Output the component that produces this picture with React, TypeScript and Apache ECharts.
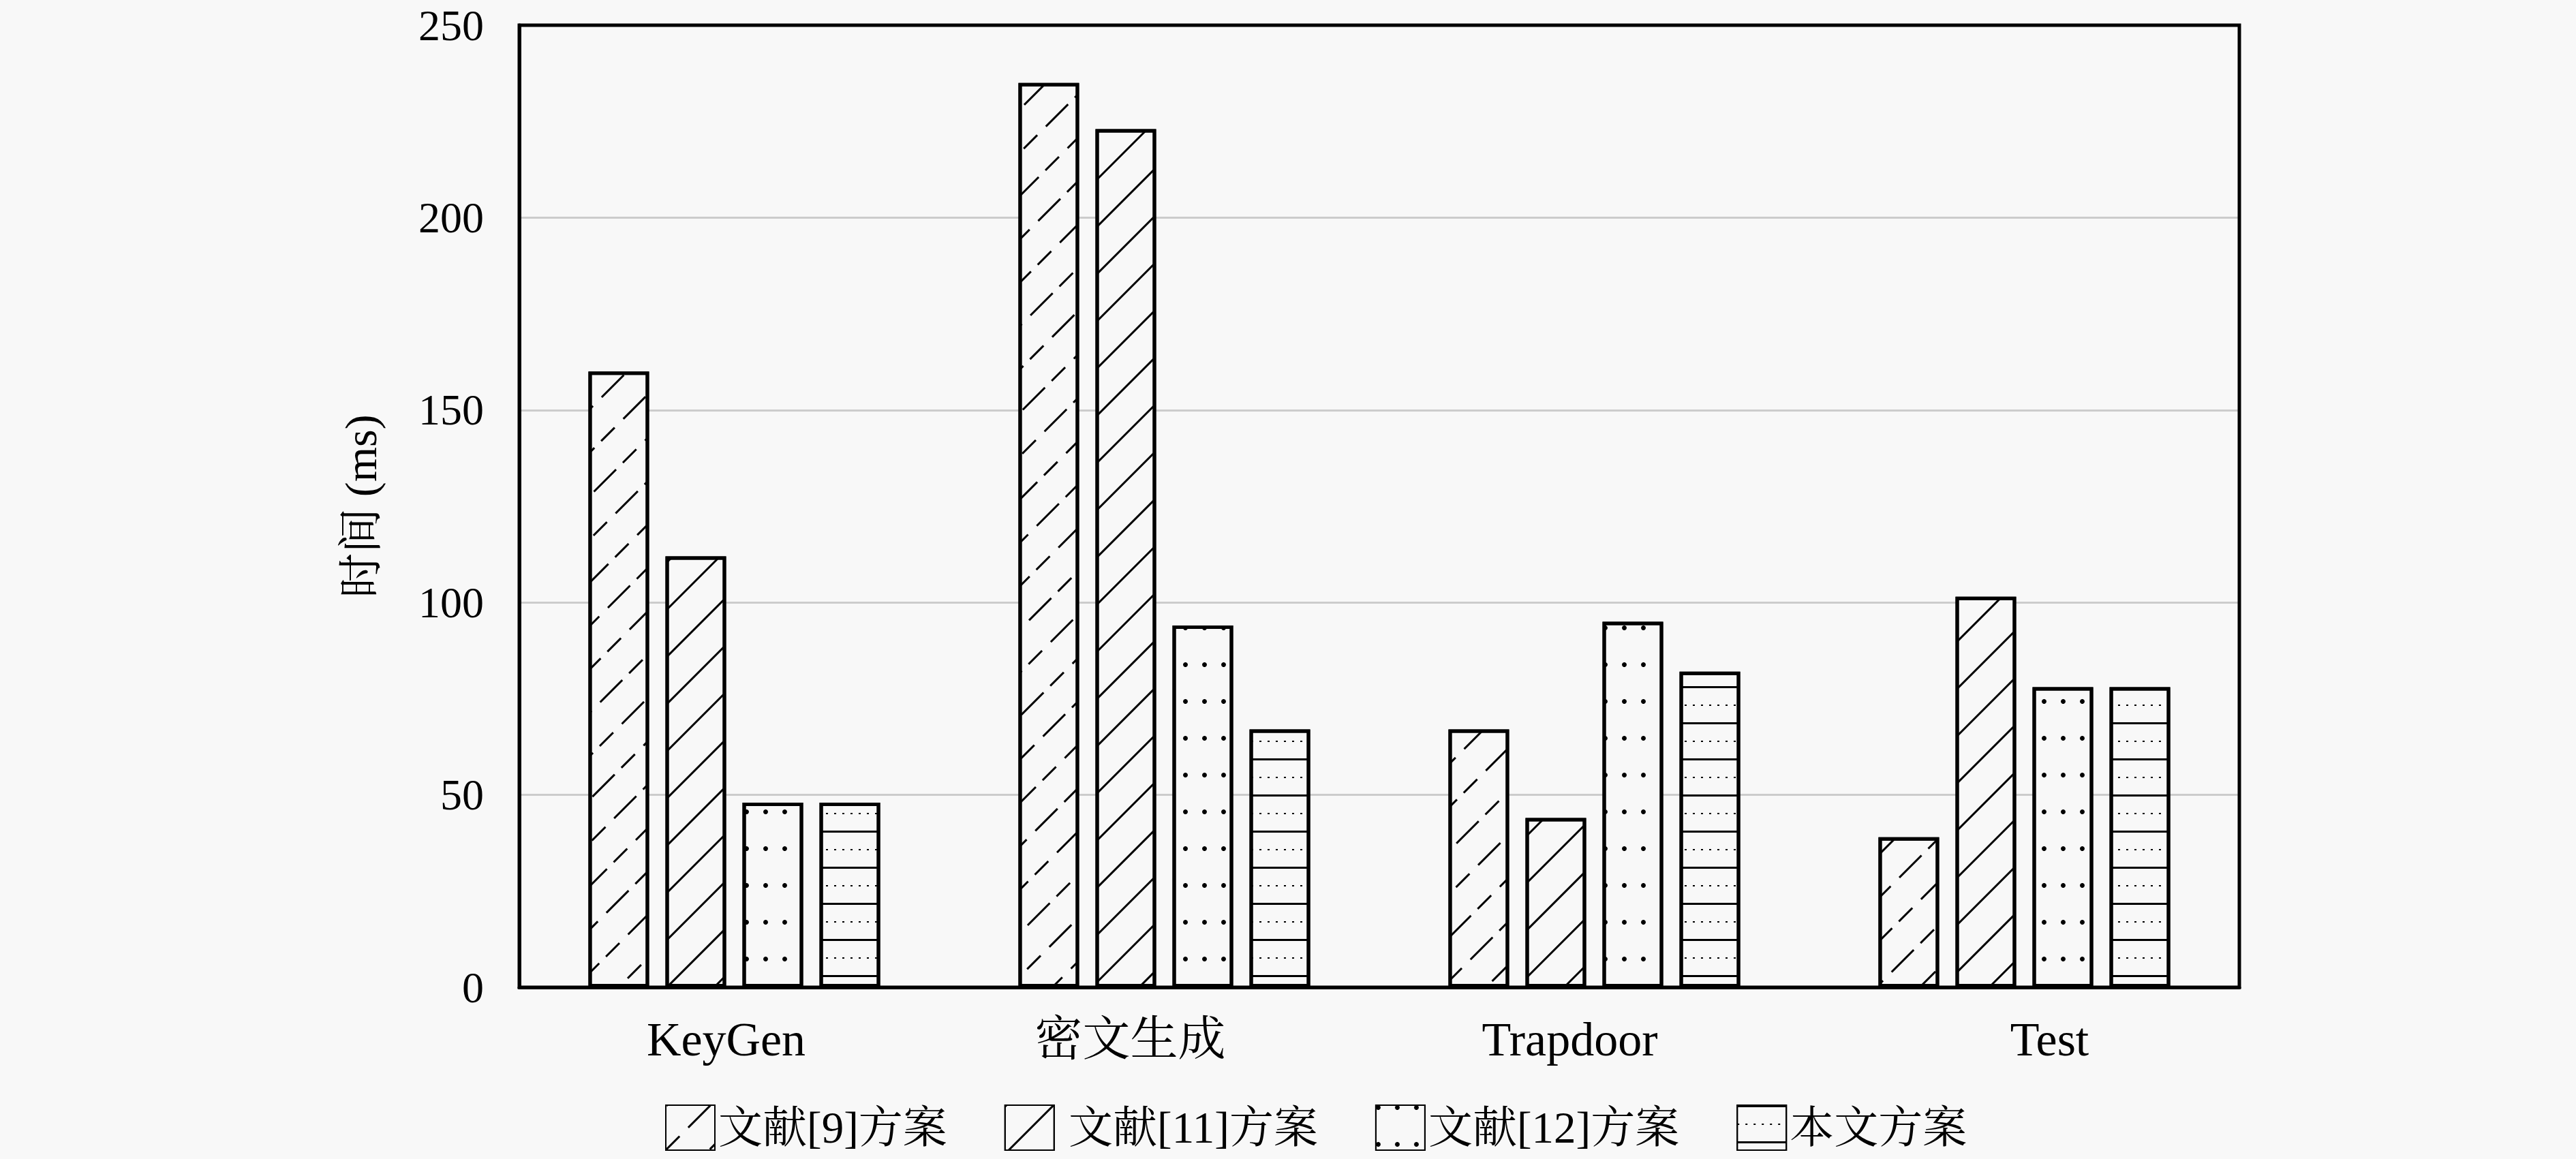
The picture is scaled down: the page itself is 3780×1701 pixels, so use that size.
import React, { useEffect, useRef } from "react";
import * as echarts from "echarts";

const categories = ["KeyGen", "密文生成", "Trapdoor", "Test"];
const labelShift = [-12, -50, -36, 37];
const seriesNames = ["文献[9]方案", "文献[11]方案", "文献[12]方案", "本文方案"];
const ref9 = [160, 235, 67, 39];
const ref11 = [112, 223, 44, 101.5];
const ref12 = [48, 94, 95, 78];
const ours = [48, 67, 82, 78];
const yTicks = { min: 0, max: 250, interval: 50 };

const FONT = "'Liberation Serif', 'Noto Serif CJK SC', 'Noto Sans CJK SC', serif";
const BG = "#f8f8f8";

const decals: any[] = [
  {
    symbol: "rect",
    symbolSize: 1,
    dashArrayX: [[46, 14, 28, 18]],
    dashArrayY: [3, 42],
    rotation: -Math.PI / 4,
    color: "#000",
    backgroundColor: "transparent",
  },
  {
    symbol: "rect",
    symbolSize: 1,
    dashArrayX: [1, 0],
    dashArrayY: [3, 46],
    rotation: -Math.PI / 4,
    color: "#000",
    backgroundColor: "transparent",
  },
  {
    symbol: "circle",
    symbolSize: 1,
    dashArrayX: [7, 21],
    dashArrayY: [7, 47],
    rotation: 0,
    color: "#000",
    backgroundColor: "transparent",
  },
  {
    symbol: "rect",
    symbolSize: 1,
    dashArrayX: [[1, 0], [3, 9]],
    dashArrayY: [3, 24, 2, 24],
    rotation: 0,
    color: "#000",
    backgroundColor: "transparent",
  },
];

export default function App() {
  const ref = useRef<HTMLDivElement>(null);
  useEffect(() => {
    document.body.style.margin = "0";
    document.body.style.background = BG;
    const chart = echarts.init(ref.current!, null, { renderer: "svg" });
    const datas = [ref9, ref11, ref12, ours];
    chart.setOption({
      animation: false,
      backgroundColor: BG,
      textStyle: { fontFamily: FONT, color: "#000" },
      grid: {
        left: 762,
        top: 37,
        right: 494,
        bottom: 252,
        show: true,
        borderColor: "#000",
        borderWidth: 5,
        backgroundColor: "transparent",
        z: 3,
      },
      legend: {
        left: 971,
        top: 1616,
        itemWidth: 72,
        itemHeight: 66,
        itemGap: 84,
        icon: "rect",
        data: seriesNames,
        formatter: (n: string) => (n === "文献[11]方案" ? " " + n : n),
        textStyle: { fontSize: 65, fontFamily: FONT, color: "#000" },
      },
      xAxis: {
        type: "category",
        data: categories.map((c, i) => ({
          value: c,
          textStyle: {
            padding: labelShift[i] < 0 ? [0, -2 * labelShift[i], 0, 0] : [0, 0, 0, 2 * labelShift[i]],
          },
        })),
        axisTick: { show: false },
        axisLine: { show: true, lineStyle: { color: "#000", width: 5 } },
        axisLabel: { fontSize: 70, color: "#000", fontFamily: FONT, margin: 41 },
      },
      yAxis: {
        type: "value",
        min: yTicks.min,
        max: yTicks.max,
        interval: yTicks.interval,
        name: "时间 (ms)",
        nameLocation: "middle",
        nameGap: 200,
        nameRotate: 90,
        nameTextStyle: { fontSize: 66, color: "#000", fontFamily: FONT },
        axisLine: { show: true, lineStyle: { color: "#000", width: 5 } },
        axisTick: { show: false },
        axisLabel: { fontSize: 64, color: "#000", fontFamily: FONT, margin: 52 },
        splitLine: { show: true, lineStyle: { color: "#cccccc", width: 3 } },
      },
      series: seriesNames.map((name, i) => ({
        name,
        type: "bar",
        data: datas[i],
        barWidth: 89,
        barGap: "27%",
        itemStyle: {
          color: BG,
          borderColor: "#000",
          borderWidth: 5,
          decal: decals[i],
        },
      })),
    });
    return () => chart.dispose();
  }, []);
  return <div ref={ref} style={{ width: 3780, height: 1701 }} />;
}
